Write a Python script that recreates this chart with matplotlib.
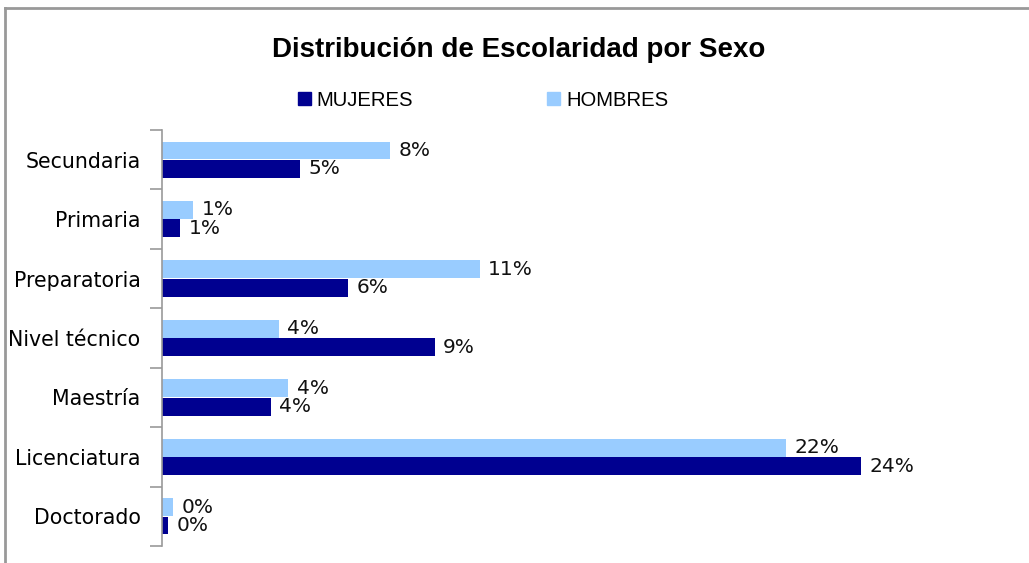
import matplotlib
matplotlib.use("Agg")
import matplotlib.pyplot as plt
from matplotlib.lines import Line2D
from matplotlib.patches import Patch

categorias = ["Secundaria", "Primaria", "Preparatoria", "Nivel técnico",
              "Maestría", "Licenciatura", "Doctorado"]
mujeres = [0.048, 0.0064, 0.0645, 0.0946, 0.0379, 0.242, 0.0022]
hombres = [0.079, 0.0109, 0.1102, 0.0407, 0.0439, 0.216, 0.0040]

c_muj = "#000090"
c_hom = "#99CCFF"

fig = plt.figure(figsize=(10.29, 5.63), dpi=100)
ax = fig.add_axes([161.5 / 1029, 1 - 546 / 563, (1000 - 161.5) / 1029, 416 / 563])

pos = range(len(categorias))
h = 0.3
ax.barh([p - 0.155 for p in pos], hombres, height=h, color=c_hom)
ax.barh([p + 0.155 for p in pos], mujeres, height=h, color=c_muj)

for p, v in zip(pos, hombres):
    ax.annotate(f"{v:.0%}", (v, p - 0.155), xytext=(6, 0), textcoords="offset points",
                va="center", ha="left", fontsize=14.5, color="#111")
for p, v in zip(pos, mujeres):
    ax.annotate(f"{v:.0%}", (v, p + 0.155), xytext=(6, 0), textcoords="offset points",
                va="center", ha="left", fontsize=14.5, color="#111")

ax.set_xlim(0, (1000 - 161.5) / 2890)
ax.set_ylim(6.5, -0.5)
ax.set_yticks(list(pos))
ax.set_yticklabels(categorias, fontsize=14.8)
ax.set_yticks([i - 0.5 for i in range(len(categorias) + 1)], minor=True)
ax.tick_params(axis="y", which="major", length=0, pad=15)
ax.tick_params(axis="y", which="minor", length=9, color="#999", width=1.2)
ax.set_xticks([])
for s in ["top", "right", "bottom"]:
    ax.spines[s].set_visible(False)
ax.spines["left"].set_color("#999")
ax.spines["left"].set_linewidth(1.2)

fig.text(519 / 1029, 1 - 50 / 563, "Distribución de Escolaridad por Sexo",
         ha="center", va="center", fontsize=20, fontweight="bold",
         family=["Liberation Sans", "DejaVu Sans"])

handles = [Patch(color=c_muj), Patch(color=c_hom)]
fig.legend(handles, ["MUJERES", "HOMBRES"], loc="center", ncol=2,
           bbox_to_anchor=(483 / 1029, 1 - 100 / 563), frameon=False,
           prop={"family": ["Liberation Sans", "DejaVu Sans"], "size": 14.6},
           handlelength=0.65, handleheight=0.65, handletextpad=0.3,
           columnspacing=6.6)

# marco gris del gráfico
fig.add_artist(Line2D([5 / 1029, 5 / 1029], [0, 1 - 8 / 563], color="#999", lw=2,
                      transform=fig.transFigure))
fig.add_artist(Line2D([5 / 1029, 1], [1 - 8 / 563, 1 - 8 / 563], color="#999", lw=2,
                      transform=fig.transFigure))

fig.savefig("out.png", dpi=100)
